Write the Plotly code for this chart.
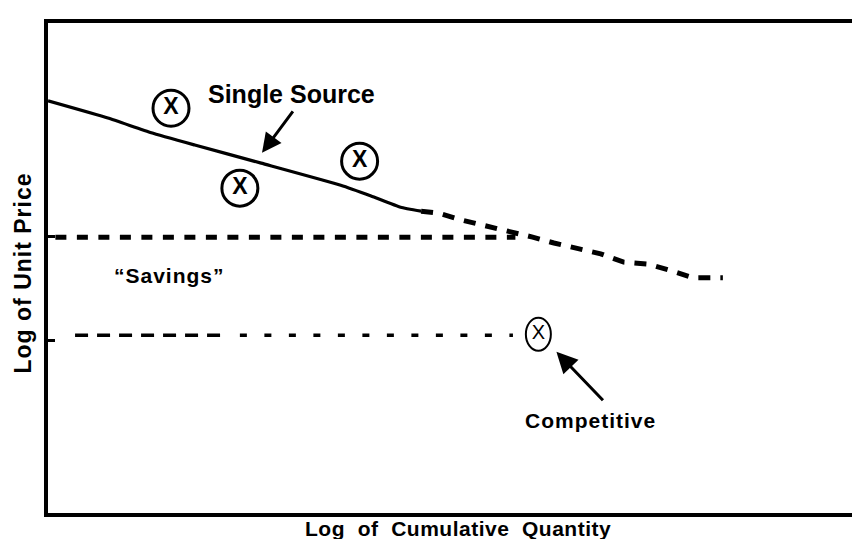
import plotly.graph_objects as go

# ---- data (abstract log units, x: 0-100, y: 0-100) ----
single_source_x = [0.0, 7.3, 12.6, 17.9, 26.0, 35.7, 39.4, 43.0, 45.5]
single_source_y = [84.1, 80.6, 77.6, 75.1, 71.4, 66.9, 64.7, 62.4, 61.6]

projection_x = [45.5, 47.6, 50.4, 53.4, 56.2, 59.1, 61.7, 64.6, 67.4, 70.2, 73.2, 76.1, 78.7, 82.3]
projection_y = [61.6, 61.2, 59.8, 58.6, 57.6, 56.3, 55.1, 53.9, 52.9, 51.2, 50.8, 49.4, 48.0, 48.0]

upper_level_x = [0.9, 57.0]
upper_level_y = [56.3, 56.3]

lower_long_x = [3.3, 21.1]
lower_short_x = [23.4, 56.7]
lower_level_y = 36.3

quote_x = [15.0, 23.4, 38.0]
quote_y = [82.6, 66.3, 71.8]

competitive_x = [59.8]
competitive_y = [36.5]

y_ticks = [56.5, 35.3]

FONT = "Liberation Sans, Arial, Helvetica, sans-serif"

fig = go.Figure()

fig.add_trace(go.Scatter(x=single_source_x, y=single_source_y, mode="lines",
                         line=dict(color="black", width=3.2, shape="spline", smoothing=0.4),
                         hoverinfo="skip"))
fig.add_trace(go.Scatter(x=projection_x, y=projection_y, mode="lines",
                         line=dict(color="black", width=5, dash="12px,10px"),
                         hoverinfo="skip"))
fig.add_trace(go.Scatter(x=upper_level_x, y=upper_level_y, mode="lines",
                         line=dict(color="black", width=5, dash="11px,10.5px"), hoverinfo="skip"))
fig.add_trace(go.Scatter(x=lower_long_x, y=[lower_level_y] * 2, mode="lines",
                         line=dict(color="black", width=3.5, dash="13px,9px"), hoverinfo="skip"))
fig.add_trace(go.Scatter(x=lower_short_x, y=[lower_level_y] * 2, mode="lines",
                         line=dict(color="black", width=3.5, dash="7px,17.5px"), hoverinfo="skip"))

fig.add_trace(go.Scatter(x=quote_x, y=quote_y, mode="markers+text", text=["X"] * 3,
                         textposition="middle center",
                         textfont=dict(family=FONT, size=23, color="black", weight="bold"),
                         marker=dict(symbol="circle-open", size=36, color="black",
                                     line=dict(width=3, color="black")),
                         hoverinfo="skip"))
fig.add_trace(go.Scatter(x=competitive_x, y=competitive_y, mode="text", text=["X"],
                         textposition="middle center",
                         textfont=dict(family=FONT, size=20, color="black"),
                         hoverinfo="skip"))

fig.add_shape(type="circle", xref="x", yref="y", xsizemode="pixel", ysizemode="pixel",
              xanchor=competitive_x[0], yanchor=competitive_y[0],
              x0=-12.5, x1=12.5, y0=-16.5, y1=16.5,
              line=dict(color="black", width=2))

annotations = [
    dict(x=29.7, y=85.5, xref="x", yref="y", text="<b>Single Source</b>", showarrow=False,
         font=dict(family=FONT, size=25, color="black"), xanchor="center", yanchor="middle"),
    dict(x=26.1, y=73.5, xref="x", yref="y", ax=32, ay=-43, text="", showarrow=True,
         arrowhead=2, arrowsize=1.3, arrowwidth=3, arrowcolor="black"),
    dict(x=14.8, y=48.4, xref="x", yref="y",
         text="<b><span style='letter-spacing:1px'>\u201cSavings\u201d</span></b>", showarrow=False,
         font=dict(family=FONT, size=21, color="black"), xanchor="center", yanchor="middle"),
    dict(x=62.0, y=32.9, xref="x", yref="y", ax=48, ay=50, text="", showarrow=True,
         arrowhead=2, arrowsize=1.4, arrowwidth=3, arrowcolor="black"),
    dict(x=66.1, y=18.8, xref="x", yref="y",
         text="<b><span style='letter-spacing:1px'>Competitive</span></b>", showarrow=False,
         font=dict(family=FONT, size=21, color="black"), xanchor="center", yanchor="middle"),
    dict(x=0.5, y=-0.031, xref="paper", yref="paper",
         text="<b><span style='letter-spacing:0.5px'>Log  of  Cumulative  Quantity</span></b>",
         showarrow=False,
         font=dict(family=FONT, size=21, color="black"), xanchor="center", yanchor="middle"),
    dict(x=-0.031, y=0.49, xref="paper", yref="paper", textangle=-90,
         text="<b><span style='letter-spacing:1px'>Log of Unit Price</span></b>", showarrow=False,
         font=dict(family=FONT, size=23, color="black"), xanchor="center", yanchor="middle"),
]

fig.update_layout(
    width=860, height=539,
    margin=dict(l=40, r=0, t=15, b=34),
    paper_bgcolor="white", plot_bgcolor="white",
    showlegend=False,
    annotations=annotations,
    xaxis=dict(range=[0, 100], showgrid=False, zeroline=False, showticklabels=False,
               showline=True, linecolor="black", linewidth=3.5, mirror=True, ticks=""),
    yaxis=dict(range=[0, 100], showgrid=False, zeroline=False, showticklabels=False,
               showline=True, linecolor="black", linewidth=3.5, mirror=False,
               tickmode="array", tickvals=y_ticks, ticks="inside", ticklen=7, tickwidth=3,
               tickcolor="black"),
)

fig.write_html("out.html")
